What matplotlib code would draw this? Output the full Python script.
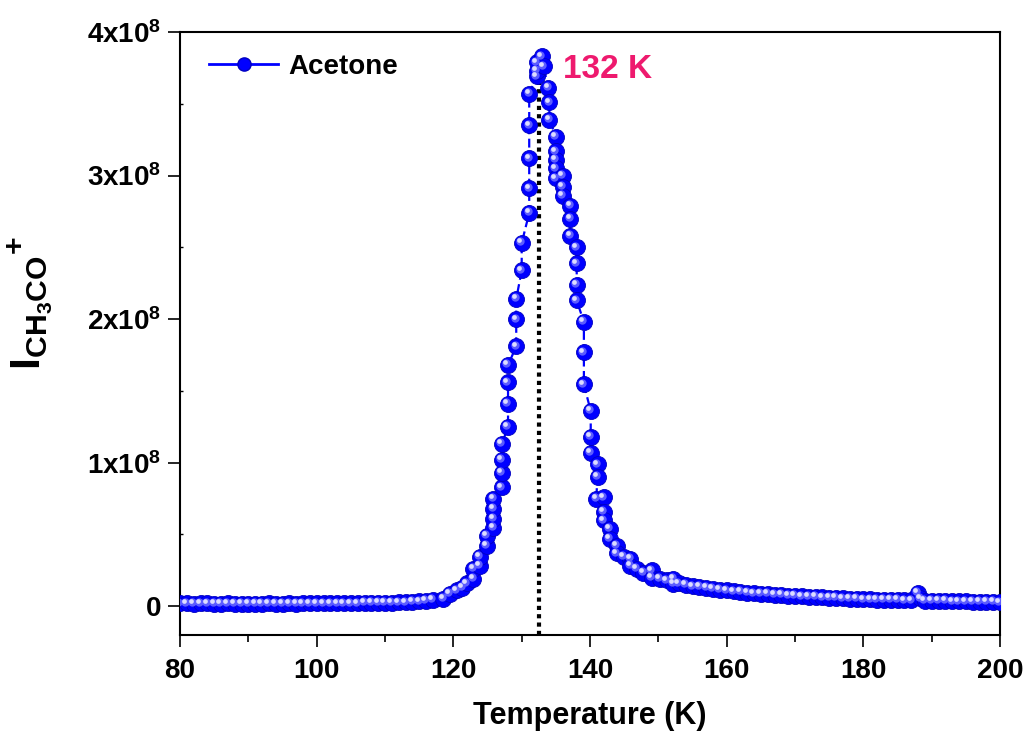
import matplotlib
matplotlib.use("Agg")
import matplotlib.pyplot as plt
from matplotlib.lines import Line2D
from matplotlib.ticker import MultipleLocator, FixedLocator, FuncFormatter
from matplotlib.transforms import offset_copy

plt.rcParams["font.family"] = ["Liberation Sans", "DejaVu Sans"]
plt.rcParams["font.weight"] = "bold"
plt.rcParams["mathtext.fontset"] = "custom"
plt.rcParams["mathtext.rm"] = "Liberation Sans:bold"
plt.rcParams["mathtext.it"] = "Liberation Sans:bold"
plt.rcParams["mathtext.bf"] = "Liberation Sans:bold"
plt.rcParams["mathtext.default"] = "rm"

# temperature (K) in acquisition order
temperature = [
  80, 81, 82, 83, 84, 85, 86, 87, 88, 89,
  90, 91, 92, 93, 94, 95, 96, 97, 98, 99,
  100, 101, 102, 103, 104, 105, 106, 107, 108, 109,
  110, 111, 112, 113, 114, 115, 116, 117,
  118.5, 119.5, 120.5, 121.3, 122.0, 122.9, 122.9, 123.9, 123.9,
  124.9, 124.9, 125.85, 125.85, 125.85, 125.85,
  127.1, 127.1, 127.1, 127.1, 128.0, 128.0, 128.0, 128.0,
  129.2, 129.2, 129.2, 130.0, 130.0,
  131.1, 131.1, 131.1, 131.1, 131.1,
  132.2, 132.2, 132.2, 132.9, 133.2,
  133.9, 134.05, 134.05, 135.0, 135.0, 135.0, 135.0, 135.0,
  136.0, 136.0, 136.0, 137.1, 137.1, 137.1,
  138.05, 138.05, 138.05, 138.05, 139.1, 139.1, 139.1,
  140.1, 140.1, 140.1, 141.1, 141.1, 140.9, 142.05, 142.05, 142.05,
  142.9, 142.9, 143.9, 143.9, 144.9, 145.9, 145.9, 146.8, 147.8,
  149.0, 149.0, 150.2, 151.2, 152.2, 152.2,
  153, 154, 155, 156, 157, 158, 159, 160, 161, 162,
  163, 164, 165, 166, 167, 168, 169, 170, 171, 172,
  173, 174, 175, 176, 177, 178, 179, 180, 181, 182,
  183, 184, 185, 186, 187, 188, 188.3, 189, 190, 191,
  192, 193, 194, 195, 196, 197, 198, 199, 200,
]

# CH3CO+ signal, units of 1e8
intensity = [
  0.020, 0.020, 0.019, 0.020, 0.020, 0.019, 0.019, 0.020, 0.019, 0.019,
  0.019, 0.019, 0.019, 0.020, 0.019, 0.019, 0.020, 0.019, 0.020, 0.020,
  0.020, 0.020, 0.021, 0.021, 0.021, 0.022, 0.022, 0.023, 0.023, 0.024,
  0.025, 0.026, 0.027, 0.029, 0.031, 0.034, 0.038, 0.044,
  0.054, 0.085, 0.11, 0.13, 0.16, 0.19, 0.26, 0.28, 0.345,
  0.42, 0.49, 0.545, 0.61, 0.68, 0.75,
  0.83, 0.93, 1.02, 1.13, 1.25, 1.41, 1.56, 1.68,
  1.81, 2.00, 2.14, 2.34, 2.53,
  2.74, 2.91, 3.12, 3.35, 3.57,
  3.69, 3.73, 3.79, 3.83, 3.76,
  3.61, 3.51, 3.39, 3.27, 3.17, 3.11, 3.05, 2.98,
  3.00, 2.92, 2.86, 2.79, 2.70, 2.58,
  2.50, 2.39, 2.24, 2.13, 1.98, 1.77, 1.545,
  1.36, 1.18, 1.07, 0.99, 0.90, 0.75, 0.76, 0.66, 0.60,
  0.54, 0.47, 0.42, 0.37, 0.345, 0.33, 0.28, 0.26, 0.235,
  0.25, 0.20, 0.19, 0.18, 0.19, 0.155,
  0.16, 0.15, 0.14, 0.135, 0.13, 0.12, 0.115, 0.11, 0.105, 0.10,
  0.095, 0.09, 0.088, 0.085, 0.08, 0.078, 0.075, 0.072, 0.07, 0.068,
  0.065, 0.062, 0.06, 0.058, 0.056, 0.054, 0.052, 0.05, 0.049, 0.047,
  0.046, 0.045, 0.044, 0.043, 0.042, 0.096, 0.055, 0.04, 0.039, 0.038,
  0.037, 0.036, 0.035, 0.034, 0.033, 0.032, 0.031, 0.030, 0.029,
]

PEAK_T = 132.6
PEAK_LABEL = "132 K"
YTICKS = [0, 1, 2, 3, 4]

BLUE = "#0000FF"

fig = plt.figure(figsize=(10.31, 7.37), dpi=100)
ax = fig.add_axes([0.1746, 0.1384, 0.7954, 0.8182])

ax.vlines(PEAK_T, -0.2, max(intensity) - 0.05, colors="black",
          linestyles=(0, (1, 1)), linewidth=3, zorder=1)

ax.plot(temperature, intensity, color=BLUE, lw=1.6,
        linestyle=(0, (4, 2)), zorder=2)
ax.plot(temperature, intensity, linestyle="none", marker="o",
        ms=11.5, mfc=BLUE, mec="#0000C0", mew=0.6, zorder=3)
# sphere shading
glow = offset_copy(ax.transData, fig=fig, x=-1.6, y=1.6, units="dots")
ax.plot(temperature, intensity, linestyle="none", marker="o",
        ms=6, mfc="#5c5cff", mew=0, transform=glow, zorder=4)
spot = offset_copy(ax.transData, fig=fig, x=-2.6, y=2.6, units="dots")
ax.plot(temperature, intensity, linestyle="none", marker="o",
        ms=3.4, mfc="#dcdcff", mew=0, transform=spot, zorder=5)

ax.text(136.05, 3.68, PEAK_LABEL, color="#EE1A6E", fontsize=24,
        fontweight="bold", va="baseline")

handle = Line2D([], [], color=BLUE, lw=2, marker="o", ms=9.5,
                mfc=BLUE, mec="#0000C0")
ax.legend([handle], ["Acetone"], loc="upper left", frameon=False,
          fontsize=20, handlelength=2.5, handletextpad=0.35,
          bbox_to_anchor=(0.008, 1.0), borderaxespad=0.4, numpoints=1)

ax.set_xlim(80, 200)
ax.set_ylim(-0.2, 4.0)
ax.xaxis.set_major_locator(MultipleLocator(20))
ax.xaxis.set_minor_locator(MultipleLocator(10))
ax.yaxis.set_major_locator(FixedLocator(YTICKS))
ax.yaxis.set_minor_locator(FixedLocator([0.5, 1.5, 2.5, 3.5]))
ax.yaxis.set_major_formatter(FuncFormatter(
  lambda v, p: "0" if v == 0 else rf"${int(v)}x10^{{8}}$"))

ax.tick_params(which="major", direction="out", length=8.5, width=1.2,
               labelsize=20, pad=5)
ax.tick_params(axis="x", which="major", pad=8)
ax.tick_params(axis="x", which="minor", direction="out", length=5,
               width=1.2)
ax.tick_params(axis="y", which="minor", direction="in", length=2,
               width=1.0)
for s in ax.spines.values():
  s.set_linewidth(1.5)

ax.set_xlabel("Temperature (K)", fontsize=22, fontweight="bold",
              labelpad=12)
ax.set_ylabel(r"$I_{CH_3CO}{}^{+}$", fontsize=31)
ax.yaxis.set_label_coords(-0.152, 0.55)

fig.savefig("out.png", dpi=100)
